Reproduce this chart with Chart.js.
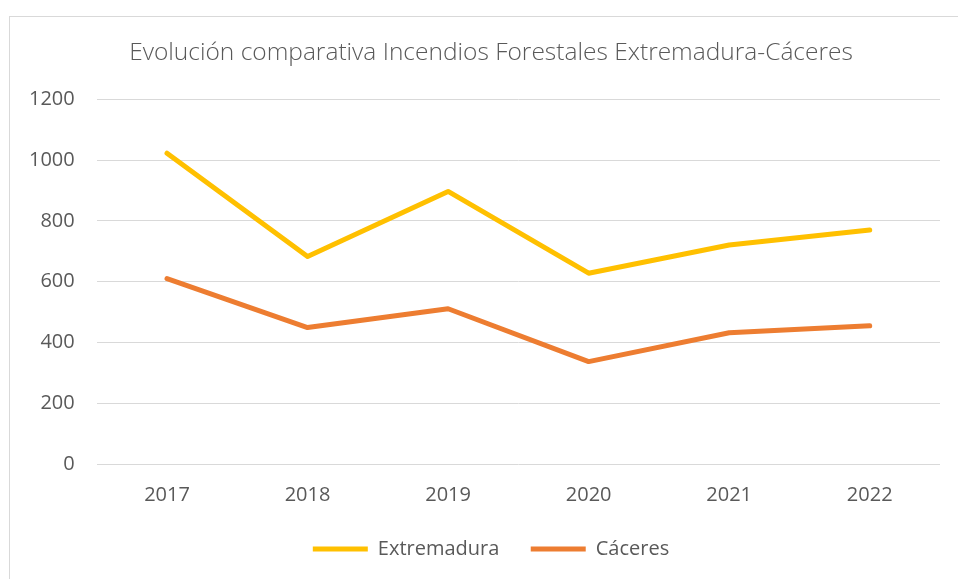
<!DOCTYPE html>
<html lang="es">
<head>
<meta charset="UTF-8">
<title>Incendios Forestales</title>
<script src="https://cdn.jsdelivr.net/npm/chart.js"></script>
<style>
  html, body { margin: 0; padding: 0; background: #fff; overflow: hidden; }
  .frame {
    position: absolute; left: 9px; top: 16px; width: 970px; height: 600px;
    border: 1px solid #d9d9d9; box-sizing: border-box;
  }
  /* el gráfico original es algo más ancho que la captura */
  .wrap { position: absolute; left: 0; top: 0; width: 975px; height: 579px; }
</style>
</head>
<body>
<div class="frame"></div>
<div class="wrap"><canvas id="chart"></canvas></div>
<script>
  // datos
  const years = ['2017', '2018', '2019', '2020', '2021', '2022'];
  const extremadura = [1023, 683, 897, 628, 721, 770];
  const caceres = [610, 449, 511, 337, 432, 455];
  const yTicks = [0, 200, 400, 600, 800, 1000, 1200];

  const textColor = '#595959';
  const fontFamily = "'Open Sans', 'Liberation Sans', sans-serif";

  new Chart(document.getElementById('chart'), {
    type: 'line',
    data: {
      labels: years,
      datasets: [
        {
          label: 'Extremadura',
          data: extremadura,
          borderColor: '#FFC000',
          backgroundColor: '#FFC000',
          borderWidth: 5,
          pointRadius: 0,
          borderCapStyle: 'round',
          borderJoinStyle: 'round',
          tension: 0
        },
        {
          label: 'Cáceres',
          data: caceres,
          borderColor: '#ED7D31',
          backgroundColor: '#ED7D31',
          borderWidth: 5,
          pointRadius: 0,
          borderCapStyle: 'round',
          borderJoinStyle: 'round',
          tension: 0
        }
      ]
    },
    options: {
      responsive: true,
      maintainAspectRatio: false,
      animation: false,
      layout: { padding: { left: 7, right: 0, top: 16, bottom: 10 } },
      plugins: {
        title: {
          display: true,
          text: 'Evolución comparativa Incendios Forestales Extremadura-Cáceres',
          color: textColor,
          font: { family: fontFamily, size: 24.5, weight: '300' },
          padding: { top: 22, bottom: 32 }
        },
        legend: {
          position: 'bottom',
          labels: {
            color: textColor,
            font: { family: fontFamily, size: 20 },
            boxWidth: 55,
            boxHeight: 5,
            padding: 21,
            generateLabels(chart) {
              const items = Chart.defaults.plugins.legend.labels.generateLabels(chart);
              items.forEach((it, i) => {
                it.lineWidth = 0;
                // un poco más de aire entre las dos entradas
                if (i < items.length - 1) it.text += '  ';
              });
              return items;
            }
          }
        },
        tooltip: { enabled: false }
      },
      scales: {
        x: {
          offset: true,
          grid: { display: false },
          border: { display: false },
          ticks: {
            color: textColor,
            font: { family: fontFamily, size: 20 },
            padding: 11
          }
        },
        y: {
          min: 0,
          max: 1200,
          afterBuildTicks(axis) {
            axis.ticks = yTicks.map(v => ({ value: v }));
          },
          grid: { color: '#d9d9d9', lineWidth: 1, drawTicks: false },
          border: { display: false },
          ticks: {
            color: textColor,
            font: { family: fontFamily, size: 20 },
            padding: 22,
            callback: v => String(v)
          }
        },
        // hueco vacío a la derecha del área de trazado
        yRight: {
          type: 'linear',
          position: 'right',
          grid: { display: false },
          border: { display: false },
          ticks: { display: false },
          afterFit(axis) { axis.width = 35; }
        }
      }
    }
  });
</script>
</body>
</html>
